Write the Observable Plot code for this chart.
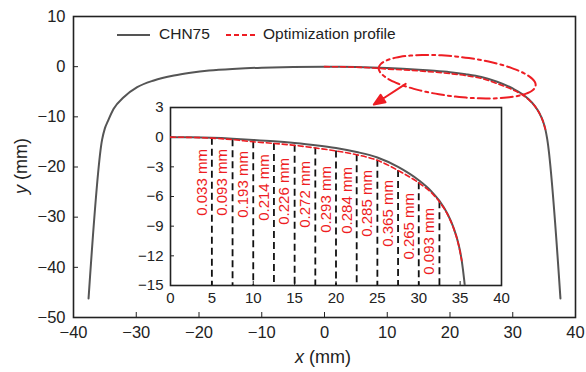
<!DOCTYPE html>
<html><head><meta charset="utf-8">
<script src="https://cdn.jsdelivr.net/npm/d3@7"></script>
<script src="https://cdn.jsdelivr.net/npm/@observablehq/plot@0.6"></script>
<style>
html,body{margin:0;padding:0;background:#fff;}
#wrap{position:relative;width:586px;height:372px;font-family:"Liberation Sans",Arial,sans-serif;}
#wrap > svg{position:absolute;}
#legend{position:absolute;left:0;top:0;font-size:15.5px;color:#222;}
</style></head><body><div id="wrap"></div>
<script>
// ---- data ----
const chnX = [-37.6, -35.45, -35.0, -34.5, -33.6, -32.0, -29.85, -27.2, -24.0, -21.35, -18.4, -14, -10, -5,
  0, 2.5, 5, 7.5, 10, 12.5, 15, 17.5, 20, 22.5, 25, 27.5, 30, 31.5, 32.5, 33.5, 34.2, 34.8, 35.2, 35.5, 37.6];
const chnY = [-46.2, -14.6, -12.3, -10.8, -8.4, -6.1, -4.1, -2.75, -1.75, -1.2, -0.75, -0.4, -0.2, -0.05,
  0, -0.02, -0.07, -0.16, -0.28, -0.42, -0.6, -0.82, -1.1, -1.5, -2.05, -3.0, -4.35, -5.45, -6.45, -7.8, -9.15, -10.8, -12.5, -14.5, -46.2];
const optX = [0, 2.5, 5, 7.5, 10, 12.5, 15, 17.5, 20, 22.5, 25, 27.5, 30, 31.5, 32.5, 33.5, 34.2, 34.8, 35.2];
const optY = [0, -0.03, -0.10, -0.25, -0.47, -0.63, -0.83, -1.09, -1.39, -1.78, -2.34, -3.37, -4.62, -5.6, -6.54, -7.85, -9.2, -10.85, -12.5];
const gapX = [5, 7.5, 10, 12.5, 15, 17.5, 20, 22.5, 25, 27.5, 30, 32.5];
const gapLabels = ["0.033 mm", "0.093 mm", "0.193 mm", "0.214 mm", "0.226 mm", "0.272 mm", "0.293 mm", "0.284 mm", "0.285 mm", "0.365 mm", "0.265 mm", "0.093 mm"];
const gapLabelY = [-4.58, -4.58, -4.78, -5.09, -5.49, -5.79, -6.30, -6.40, -6.70, -7.71, -9.01, -10.53];
const mainXTicks = [-40, -30, -20, -10, 0, 10, 20, 30, 40];
const mainYTicks = [-50, -40, -30, -20, -10, 0, 10];
const insetXTicks = [0, 5, 10, 15, 20, 25, 30, 35, 40];
const insetYTicks = [3, 0, -3, -6, -9, -12, -15];
const seriesNames = ["CHN75", "Optimization profile"];
// annotation: ellipse (centre, half-widths in data units, tilt) and arrow tip
const ellipseCenter = [21.15, -2.0];
const ellipseRadii = [12.5, 4.05];
const ellipseTiltY = -1.56;
const arrowTip = [7.86, -7.56];

const GRAY = "#555555", RED = "#ee1d23";
const chn = chnX.map((x, i) => ({x, y: chnY[i]}));
const chnRight = chn.filter(d => d.x >= 0);
const opt = optX.map((x, i) => ({x, y: optY[i]}));
const gaps = gapX.map((x, i) => ({x, top: optY[optX.indexOf(x)], label: gapLabels[i], ly: gapLabelY[i]}));
const ell = d3.range(0, 73).map(k => {
  const t = k / 72 * 2 * Math.PI;
  return {x: ellipseCenter[0] + ellipseRadii[0] * Math.cos(t) - 0.32 * Math.sin(t),
          y: ellipseCenter[1] + ellipseTiltY * Math.cos(t) + ellipseRadii[1] * Math.sin(t)};
});
const arrowShape = {draw(context, l) {
  context.moveTo(0, 0); context.lineTo(0, -l + 8);
  context.moveTo(0, -l); context.lineTo(-4.5, -l + 11); context.lineTo(4.5, -l + 11); context.closePath();
}};

const wrap = document.getElementById("wrap");

const main = Plot.plot({
  width: 586, height: 372,
  marginLeft: 73, marginRight: 11, marginTop: 16, marginBottom: 55,
  x: {domain: [-40, 40]},
  y: {domain: [-50, 10]},
  style: {fontFamily: "Liberation Sans, Arial, sans-serif", fontSize: "16.5px", color: "#222", background: "white"},
  marks: [
    Plot.frame({stroke: "#222", strokeWidth: 1.6}),
    Plot.axisX(mainXTicks, {tickSize: -5, tickPadding: 14, fontSize: 16.5, label: null}),
    Plot.axisY(mainYTicks, {tickSize: -5, tickPadding: 13, fontSize: 16.5, label: null}),
    Plot.line(chn, {x: "x", y: "y", stroke: GRAY, strokeWidth: 2, curve: "monotone-x"}),
    Plot.line(opt, {x: "x", y: "y", stroke: RED, strokeWidth: 1.6, strokeDasharray: "5,3", curve: "monotone-x"}),
    Plot.line(ell, {x: "x", y: "y", stroke: RED, strokeWidth: 2, strokeDasharray: "12,4,3,4", curve: "catmull-rom"}),
    Plot.vector([arrowTip], {x: d => d[0], y: d => d[1], anchor: "end", length: 38, rotate: 237,
      shape: arrowShape, stroke: RED, fill: RED, strokeWidth: 2})
  ]
});
wrap.appendChild(main);
main.style.left = "0px"; main.style.top = "0px";

const msvg = d3.select(main);
const xt = msvg.append("text").attr("x", 323).attr("y", 358).attr("text-anchor", "middle")
  .attr("dominant-baseline", "middle").attr("font-size", 18).attr("fill", "#222");
xt.append("tspan").attr("font-style", "italic").text("x");
xt.append("tspan").text(" (mm)");
const yt = msvg.append("text").attr("transform", "translate(22,166) rotate(-90)").attr("text-anchor", "middle")
  .attr("dominant-baseline", "middle").attr("font-size", 18).attr("fill", "#222");
yt.append("tspan").attr("font-style", "italic").text("y");
yt.append("tspan").text(" (mm)");

// legend
const leg = document.createElement("div");
leg.id = "legend";
leg.innerHTML = `
<svg style="position:absolute;left:116px;top:29px" width="36" height="12"><line x1="1" x2="34" y1="6" y2="6" stroke="${GRAY}" stroke-width="2"/></svg>
<span style="position:absolute;left:159px;top:25px;white-space:nowrap">${seriesNames[0]}</span>
<svg style="position:absolute;left:225px;top:29px" width="36" height="12"><line x1="1" x2="33" y1="6" y2="6" stroke="${RED}" stroke-width="1.8" stroke-dasharray="5,3"/></svg>
<span style="position:absolute;left:263px;top:25px;white-space:nowrap">${seriesNames[1]}</span>`;
wrap.appendChild(leg);

// inset
const inset = Plot.plot({
  width: 383, height: 218,
  marginLeft: 40, marginRight: 12, marginTop: 10, marginBottom: 30,
  x: {domain: [0, 40]},
  y: {domain: [-15, 3]},
  style: {fontFamily: "Liberation Sans, Arial, sans-serif", fontSize: "15px", color: "#222", background: "transparent", overflow: "visible"},
  marks: [
    Plot.frame({fill: "white", stroke: "#222", strokeWidth: 1.6}),
    Plot.axisX(insetXTicks, {tickSize: -4, tickPadding: 11, fontSize: 15, label: null}),
    Plot.axisY(insetYTicks, {tickSize: -4, tickPadding: 11, fontSize: 15, label: null}),
    Plot.ruleX(gaps, {x: "x", y1: "top", y2: -15, stroke: "#111", strokeWidth: 1.8, strokeDasharray: "7,4"}),
    Plot.line(chnRight, {x: "x", y: "y", stroke: GRAY, strokeWidth: 2, curve: "monotone-x", clip: true}),
    Plot.line(opt, {x: "x", y: "y", stroke: RED, strokeWidth: 1.6, strokeDasharray: "5,3", curve: "monotone-x", clip: true}),
    Plot.text(gaps, {x: "x", y: "ly", text: "label", rotate: -90, dx: -10, fill: RED, fontSize: 15})
  ]
});
wrap.appendChild(inset);
inset.style.left = "130px"; inset.style.top = "97px";
</script></body></html>
